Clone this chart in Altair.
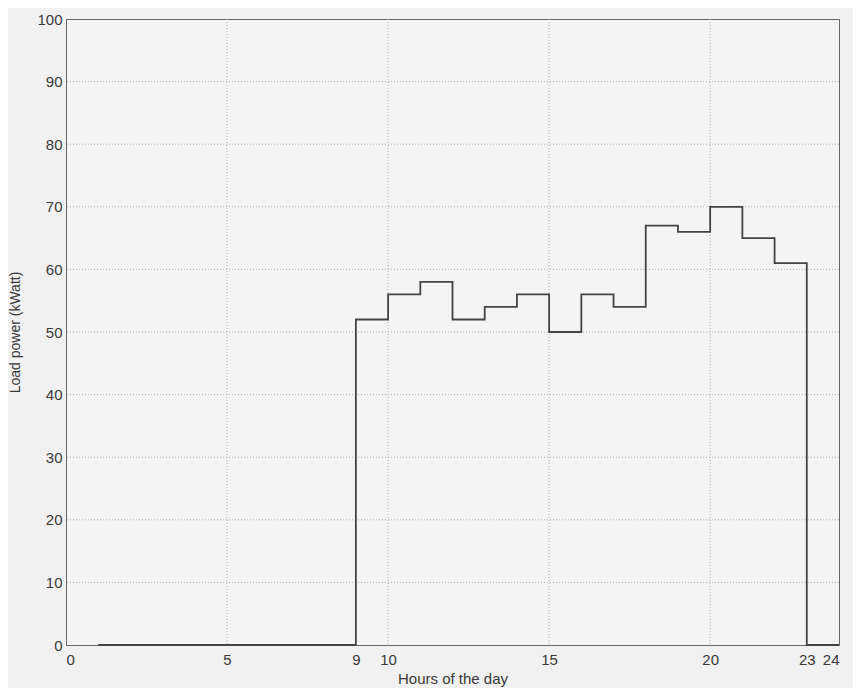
import altair as alt
import pandas as pd

hours = [1, 2, 3, 4, 5, 6, 7, 8, 9, 10, 11, 12, 13, 14, 15, 16, 17, 18, 19, 20, 21, 22, 23, 24]
load_kw = [0, 0, 0, 0, 0, 0, 0, 0, 52, 56, 58, 52, 54, 56, 50, 56, 54, 67, 66, 70, 65, 61, 0, 0]
x_ticks = [0, 5, 9, 10, 15, 20, 23, 24]
y_ticks = [0, 10, 20, 30, 40, 50, 60, 70, 80, 90, 100]
x_grid = [5, 10, 15, 20]
y_grid = [10, 20, 30, 40, 50, 60, 70, 80, 90]

df = pd.DataFrame({"hour": hours, "load": load_kw})
xs = alt.Scale(domain=[0, 24], nice=False)
ys = alt.Scale(domain=[0, 100], nice=False)

font = "Liberation Sans"

vgrid = alt.Chart(pd.DataFrame({"g": x_grid})).mark_rule(
    color="#b0b0b0", strokeDash=[1, 2], strokeWidth=1
).encode(x=alt.X("g:Q", scale=xs))
hgrid = alt.Chart(pd.DataFrame({"g": y_grid})).mark_rule(
    color="#b0b0b0", strokeDash=[1, 2], strokeWidth=1
).encode(y=alt.Y("g:Q", scale=ys))

line = alt.Chart(df).mark_line(
    interpolate="step-after", color="#444444", strokeWidth=1.8
).encode(
    x=alt.X("hour:Q", scale=xs, title="Hours of the day",
            axis=alt.Axis(values=x_ticks, format="d", grid=False, tickSize=0,
                          labelFontSize=15, titleFontSize=15, labelColor="#3a3a3a",
                          titleColor="#3a3a3a", domainColor="#666666",
                          labelFont=font, titleFont=font, titlePadding=4, labelPadding=7)),
    y=alt.Y("load:Q", scale=ys, title="Load power (kWatt)",
            axis=alt.Axis(values=y_ticks, format="d", grid=False, tickSize=0,
                          labelFontSize=15, titleFontSize=14, labelColor="#3a3a3a",
                          titleColor="#3a3a3a", domainColor="#666666",
                          labelFont=font, titleFont=font, titlePadding=14, labelPadding=4,
                          titleFontWeight="normal")),
)

chart = alt.layer(vgrid, hgrid, line).properties(
    width=773, height=626,
    autosize=alt.AutoSizeParams(type="none"),
    padding={"left": 58, "top": 11, "right": 14, "bottom": 43},
    background="#f1f1f1",
).configure_view(
    stroke="#666666", strokeWidth=1, fill="#f4f4f4"
).configure_axis(titleFontWeight="normal")

chart.save("out.html", embed_options={"renderer": "svg", "actions": False})
